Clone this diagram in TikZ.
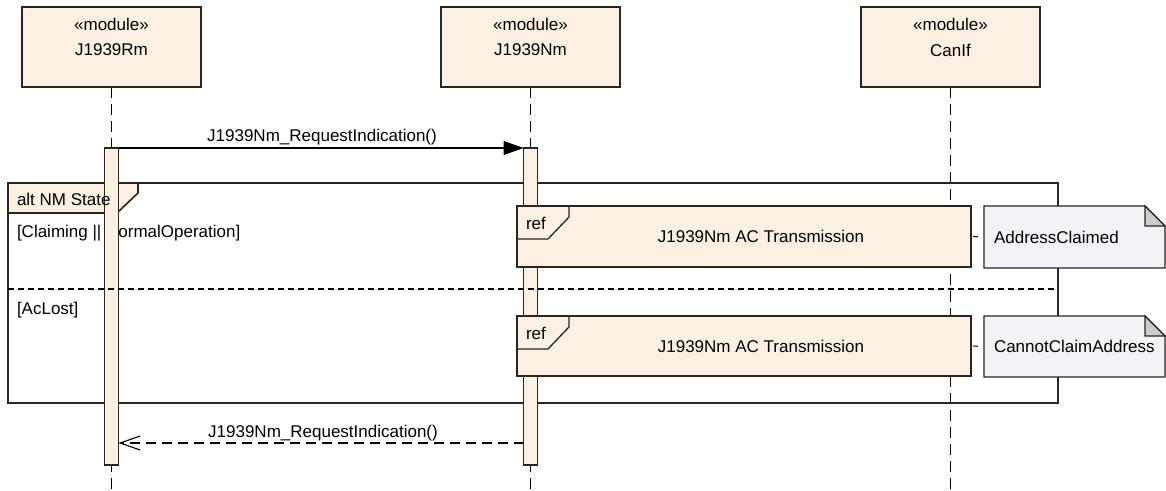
\documentclass[tikz,border=0pt]{standalone}
\usepackage{fontspec}
\setmainfont{Liberation Sans}
\usetikzlibrary{arrows.meta}
\pgfdeclarelayer{bg}
\pgfdeclarelayer{mid}
\pgfsetlayers{bg,mid,main}
\definecolor{boxfill}{RGB}{251,240,226}
\definecolor{notefill}{RGB}{245,242,247}
\definecolor{foldfill}{RGB}{204,204,208}
\definecolor{edgegray}{RGB}{38,38,38}

\begin{document}
\begin{tikzpicture}[x=1pt, y=-1pt,
        font=\fontsize{17}{20}\selectfont,
        every node/.style={inner sep=0pt, outer sep=0pt},
        module/.style={draw=edgegray, line width=1.5pt, fill=boxfill, minimum width=179pt, minimum height=80pt},
        bar/.style={draw=edgegray, line width=1.3pt, fill=boxfill, minimum width=14pt, minimum height=317pt},
        refbox/.style={draw=edgegray, line width=1.5pt, fill=boxfill, minimum width=454pt},
        note/.style={minimum width=181pt, text width=161pt, align=left},
        notebox/.style={draw=edgegray, line width=1.2pt, fill=notefill},
        fold/.style={draw=edgegray, line width=1.2pt, fill=foldfill},
        notelink/.style={line width=1pt, dash pattern=on 5pt off 20pt, dash phase=23pt},
        lifeline/.style={line width=1.1pt, dash pattern=on 11pt off 6pt},
        frame/.style={draw=edgegray, line width=1.6pt},
        sep/.style={line width=1.1pt, dash pattern=on 6pt off 4pt},
        msg/.style={line width=1.1pt, -{Triangle[length=20pt,width=14pt]}},
        reply/.style={line width=1.1pt, dash pattern=on 10pt off 6pt, -{Straight Barb[length=20pt,width=14pt,line width=1.1pt]}}]
        \useasboundingbox (0,0) rectangle (1166,490);
        % lifelines heads
        \node (m0) [module] at (111.5,47) {};
        \node (m1) [module] at (530.5,47) {};
        \node (m2) [module] at (950.5,47) {};
        \node (m0s) at (111.5,24) {«module»};
        \node (m0n) at (111.5,50) {J1939Rm};
        \node (m1s) at (530.5,24) {«module»};
        \node (m1n) at (530.5,50) {J1939Nm};
        \node (m2s) at (950.5,24) {«module»};
        \node (m2n) at (950.5,50) {CanIf};
        \coordinate (e0) at (111.5,490);
        \coordinate (e1) at (530.5,490);
        \coordinate (e2) at (950.5,490);
        \begin{pgfonlayer}{bg}
                \draw [lifeline] (m0.south) -- (e0);
                \draw [lifeline] (m1.south) -- (e1);
                \draw [lifeline] (m2.south) -- (e2);
                \node (f0) [frame, minimum width=1050pt, minimum height=220pt] at (533,293) {};
                \draw [frame, fill=boxfill] (f0.north west) -- ([xshift=130pt]f0.north west)
                        -- ([xshift=130pt,yshift=-10pt]f0.north west) -- ([xshift=109pt,yshift=-30pt]f0.north west)
                        -- ([yshift=-30pt]f0.north west) -- cycle;
                \node (g0) [anchor=west] at (17,233) {[Claiming || NormalOperation]};
                \node (g1) [anchor=west] at (17,310) {[AcLost]};
                \node (a0) [bar] at (111.5,306.5) {};
                \node (a1) [bar] at (530.5,306.5) {};
                \draw [sep] ([yshift=4pt]f0.west) -- ([yshift=4pt]f0.east);
        \end{pgfonlayer}
        \node (k0) [anchor=west] at (17,199) {alt NM State};
        % messages
        \draw [msg] (a0.north east) -- (a1.north west);
        \node (t0) at (322,137) {J1939Nm\_RequestIndication()};
        \draw [reply] ([yshift=22pt]a1.south west) -- ([yshift=22pt]a0.south east);
        \node (t1) at (323,433) {J1939Nm\_RequestIndication()};
        % interaction uses
        \node (r0) [refbox, minimum height=61pt, label={[xshift=17pt]center:J1939Nm AC Transmission}] at (744,236.5) {};
        \node (r1) [refbox, minimum height=60pt, label={[xshift=17pt]center:J1939Nm AC Transmission}] at (744,346) {};
        \foreach \r in {r0,r1} {
                \draw [draw=edgegray, line width=1.3pt] ([xshift=52pt]\r.north west) -- ([xshift=52pt,yshift=-11pt]\r.north west)
                        -- ([xshift=31pt,yshift=-33pt]\r.north west) -- ([yshift=-33pt]\r.north west);
                \node (\r t) [anchor=west] at ([xshift=9pt,yshift=-17pt]\r.north west) {ref};
        }
        % notes
        \node (n0) [note, minimum height=62pt] at (1074.5,237) {AddressClaimed};
        \node (n1) [note, minimum height=61pt] at (1074.5,346.5) {CannotClaimAddress};
        \begin{pgfonlayer}{mid}
                \foreach \n in {n0,n1} {
                        \draw [notebox] (\n.north west) -- ([xshift=-20pt]\n.north east) -- ([yshift=-20pt]\n.north east)
                                -- (\n.south east) -- (\n.south west) -- cycle;
                        \draw [fold] ([xshift=-20pt]\n.north east) -- ([xshift=-20pt,yshift=-20pt]\n.north east)
                                -- ([yshift=-20pt]\n.north east) -- cycle;
                }
        \end{pgfonlayer}
        \draw [notelink] (r0.east) -- (n0.west);
        \draw [notelink] (r1.east) -- (n1.west);
\end{tikzpicture}
\end{document}
